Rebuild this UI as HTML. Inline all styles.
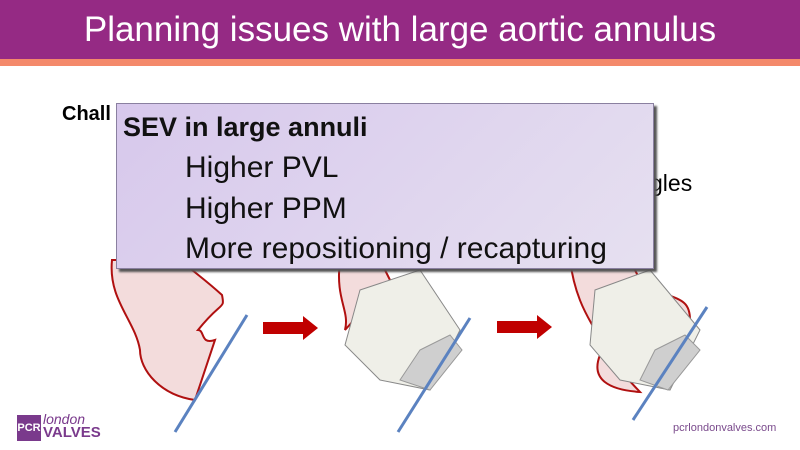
<!DOCTYPE html>
<html><head><style>
body{margin:0;width:800px;height:450px;overflow:hidden;background:#fff;font-family:"Liberation Sans",sans-serif;position:relative}
.hdr{position:absolute;left:0;top:0;width:800px;height:59px;background:#952a84;color:#fff;font-size:35px;text-align:center;line-height:60px}
.or{position:absolute;left:0;top:59px;width:800px;height:7px;background:#f4896b}
.box{position:absolute;left:116px;top:103px;width:536px;height:164px;background:linear-gradient(135deg,#d7c8ec,#e6e0f0);border:1px solid #8a80a0;box-shadow:3px 3px 2px #555;font-size:30px;color:#111}
.t{position:absolute;white-space:nowrap}
</style></head><body>
<div class="hdr">Planning issues with large aortic annulus</div>
<div class="or"></div>
<svg width="800" height="450" style="position:absolute;left:0;top:0">
<g fill="#f3dcdc" stroke="#b01010" stroke-width="2">
<path d="M112,260 C108,300 135,320 140,350 C140,370 160,395 195,400 L215,340 C200,345 205,330 198,330 C222,300 225,310 222,295 C200,275 190,270 182,260 Z"/>
<path d="M340,260 C335,300 350,310 345,330 L390,280 L380,260Z"/>
<path d="M570,260 C575,300 590,320 595,330 L640,280 L630,260Z"/>
<path d="M600,355 C590,380 610,390 640,392 L610,360Z"/>
<path d="M655,290 C680,300 690,300 690,320 L670,310Z"/>
</g>
<g fill="#efefe8" stroke="#888" stroke-width="1">
<polygon points="360,290 420,270 460,330 430,390 380,380 345,345"/>
<polygon points="595,290 650,270 700,330 670,390 620,380 590,345"/>
</g>
<g fill="#cfcfcf" stroke="#999">
<polygon points="420,350 450,335 462,350 430,390 400,380"/>
<polygon points="655,350 685,335 700,350 668,390 640,380"/>
</g>
<g stroke="#5b82c0" stroke-width="3">
<line x1="247" y1="315" x2="175" y2="432"/>
<line x1="470" y1="318" x2="398" y2="432"/>
<line x1="707" y1="307" x2="633" y2="420"/>
</g>
<g fill="#c00000">
<rect x="263" y="322" width="40" height="12"/><polygon points="303,316 318,328 303,340"/>
<rect x="497" y="321" width="40" height="12"/><polygon points="537,315 552,327 537,339"/>
</g>
</svg>
<div class="t" style="left:62px;top:103px;font-size:20px;font-weight:bold">Chall</div>
<div class="t" style="left:650px;top:170px;font-size:23px">gles</div>
<div class="box">
<div class="t" style="left:6px;top:8px;font-weight:bold;font-size:27px">SEV in large annuli</div>
<div class="t" style="left:68px;top:47px">Higher PVL</div>
<div class="t" style="left:68px;top:88px">Higher PPM</div>
<div class="t" style="left:68px;top:128px">More repositioning / recapturing</div>
</div>
<div class="t" style="left:17px;top:415px;width:24px;height:26px;background:#7a3a8c;color:#fff;font-size:11px;line-height:26px;text-align:center;font-weight:bold">PCR</div>
<div class="t" style="left:43px;top:411px;font-size:14px;color:#7a3a8c;font-style:italic">london</div>
<div class="t" style="left:43px;top:424px;font-size:15px;color:#7a3a8c;font-weight:bold">VALVES</div>
<div class="t" style="left:673px;top:422px;font-size:11px;color:#7a4a8c">pcrlondonvalves.com</div>
</body></html>
